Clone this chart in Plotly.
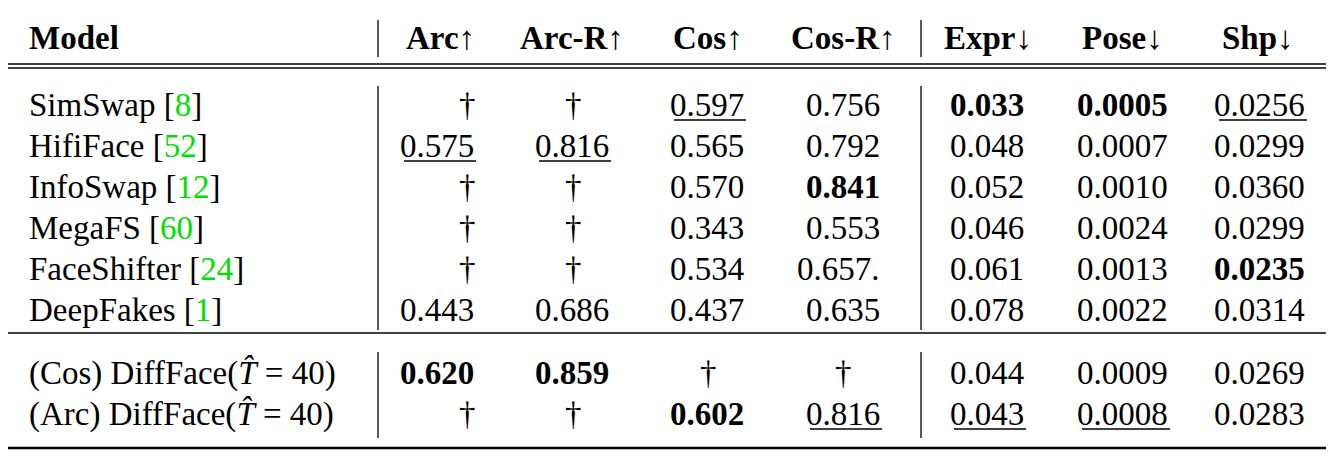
import plotly.graph_objects as go

headers = ["Model", "Arc↑", "Arc-R↑", "Cos↑", "Cos-R↑", "Expr↓", "Pose↓", "Shp↓"]
models = ["SimSwap [<span style='color:#00e000'>8</span>]",
          "HifiFace [<span style='color:#00e000'>52</span>]",
          "InfoSwap [<span style='color:#00e000'>12</span>]",
          "MegaFS [<span style='color:#00e000'>60</span>]",
          "FaceShifter [<span style='color:#00e000'>24</span>]",
          "DeepFakes [<span style='color:#00e000'>1</span>]",
          "(Cos) DiffFace(<i>T̂</i> = 40)",
          "(Arc) DiffFace(<i>T̂</i> = 40)"]
arc   = ["†", "0.575", "†", "†", "†", "0.443", "0.620", "†"]
arc_r = ["†", "0.816", "†", "†", "†", "0.686", "0.859", "†"]
cos   = ["0.597", "0.565", "0.570", "0.343", "0.534", "0.437", "†", "0.602"]
cos_r = ["0.756", "0.792", "0.841", "0.553", "0.657.", "0.635", "†", "0.816"]
expr  = ["0.033", "0.048", "0.052", "0.046", "0.061", "0.078", "0.044", "0.043"]
pose  = ["0.0005", "0.0007", "0.0010", "0.0024", "0.0013", "0.0022", "0.0009", "0.0008"]
shp   = ["0.0256", "0.0299", "0.0360", "0.0299", "0.0235", "0.0314", "0.0269", "0.0283"]
# formatting: b = bold, u = underline
fmt = {
    "arc":   ["", "u", "", "", "", "", "b", ""],
    "arc_r": ["", "u", "", "", "", "", "b", ""],
    "cos":   ["u", "", "", "", "", "", "", "b"],
    "cos_r": ["", "", "b", "", "", "", "", "u"],
    "expr":  ["b", "", "", "", "", "", "", "u"],
    "pose":  ["b", "", "", "", "", "", "", "u"],
    "shp":   ["u", "", "", "", "b", "", "", ""],
}

FONT = "Liberation Serif"
FS = 33
row_y = [105, 146, 187, 228, 269, 310, 373, 414]
col_right = {"arc": 476, "arc_r": 611, "cos": 746, "cos_r": 882, "expr": 1026, "pose": 1170, "shp": 1307}
dagger_top = {"arc": 467, "arc_r": 573, "cos": 708, "cos_r": 843}
head_x = [27, 440, 572, 708, 843, 988, 1122, 1258]
cols = {"arc": arc, "arc_r": arc_r, "cos": cos, "cos_r": cos_r, "expr": expr, "pose": pose, "shp": shp}

def width(s):
    return sum(0.25 if c == "." else 0.5 for c in s) * FS * 0.97

fig = go.Figure()
ann = []
shapes = []
for i, h in enumerate(headers):
    ann.append(dict(x=head_x[i], y=38, text=f"<b>{h}</b>", xanchor="left" if i == 0 else "center",
                    yanchor="middle", showarrow=False))
for r, m in enumerate(models):
    ann.append(dict(x=27, y=row_y[r], text=m, xanchor="left", yanchor="middle", showarrow=False))
for k, vals in cols.items():
    for r, v in enumerate(vals):
        f = fmt[k][r]
        if v == "†":
            ann.append(dict(x=dagger_top[k], y=row_y[r], text=v, xanchor="center", yanchor="middle", showarrow=False))
            continue
        t = f"<b>{v}</b>" if f == "b" else v
        xr = col_right[k]
        ann.append(dict(x=xr, y=row_y[r], text=t, xanchor="right", yanchor="middle", showarrow=False))
        if f == "u":
            w = width(v.rstrip("."))
            shapes.append(dict(type="line", x0=xr - w, x1=xr, y0=row_y[r] + 15, y1=row_y[r] + 15,
                               line=dict(color="black", width=1.3)))

def hline(y, w):
    shapes.append(dict(type="line", x0=8, x1=1326, y0=y, y1=y, line=dict(color="black", width=w)))
hline(6, 2.6); hline(64, 1.3); hline(68, 1.3); hline(333, 1.5); hline(448, 2.6)
for x in [378, 921]:
    for y0, y1 in [(20, 57), (86, 330), (352, 438)]:
        shapes.append(dict(type="line", x0=x, x1=x, y0=y0, y1=y1, line=dict(color="black", width=1.3)))

# page has an 8px body margin; shift the axis window to compensate
fig.update_layout(width=1334, height=460, margin=dict(l=0, r=0, t=0, b=0),
                  paper_bgcolor="white", plot_bgcolor="white",
                  font=dict(family=FONT, size=FS, color="black"),
                  xaxis=dict(range=[8, 1342], visible=False, fixedrange=True),
                  yaxis=dict(range=[468, 8], visible=False, fixedrange=True),
                  annotations=ann, shapes=shapes, showlegend=False)
fig.write_html("out.html", config={"displayModeBar": False})
